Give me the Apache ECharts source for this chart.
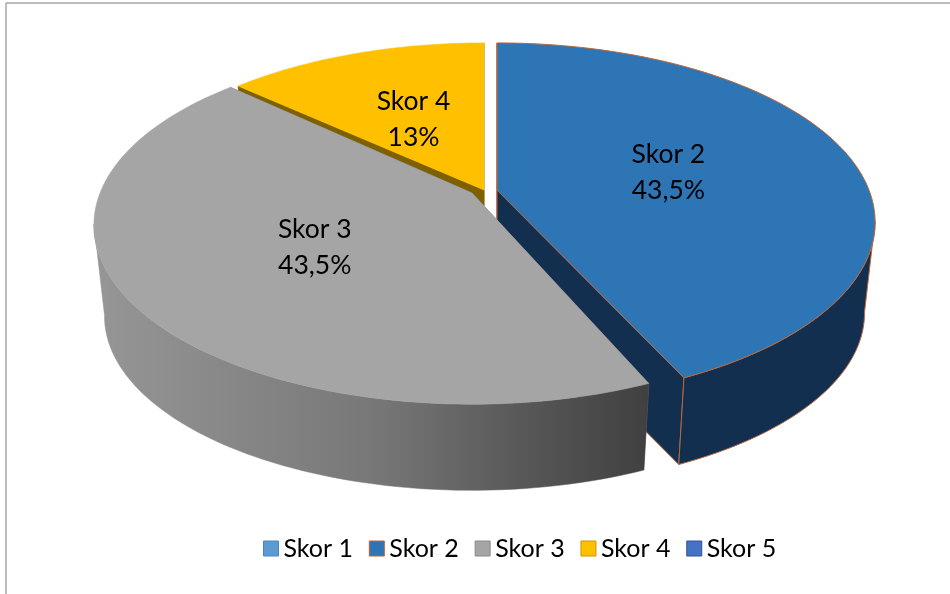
<!DOCTYPE html>
<html>
<head>
<meta charset="utf-8">
<style>html,body{margin:0;padding:0;background:#fff}#chart{width:950px;height:594px}</style>
<script src="https://cdn.jsdelivr.net/npm/echarts@6/dist/echarts.min.js"></script>
</head>
<body>
<div id="chart"></div>
<script>
const categories = ['Skor 1', 'Skor 2', 'Skor 3', 'Skor 4', 'Skor 5'];
const values = [0, 43.5, 43.5, 13, 0];

const topColors = ['#5b9bd5', '#2e75b6', '#a5a5a5', '#ffc000', '#4472c4'];
const sideColors = ['#2e4d6b', '#132f4f', '#7a7a7a', '#7f6000', '#223962'];
const legendBorders = ['#4a86bd', '#c0622c', '#8a8a8a', '#c99700', '#2f5597'];
const edgeColors = [null, '#b8683a', null, null, null];
// Exploded apex of each slice, label nudges and view-angle corrections (layout only)
const apexX = [490, 497, 472, 484, 490];
const apexY = [190, 190, 193, 190, 190];
const labelDx = [0, 0, 9, -7, 0];
const labelDy = [0, 0, 0, -4, 0];
const startNudge = [0, 0, 0, -1, 0];
const endNudge = [0, -1.5, 0, 0, 0];

const radiusX = 372, radiusY = 173.4, persp = 0.179, bottomScale = 0.972, bottomDrop = 92;
const frontFrom = 100, frontTo = 260;
const total = values.reduce((a, b) => a + b, 0);

function pt(i, deg, bottom) {
  const t = deg * Math.PI / 180, u = Math.sin(t), v = Math.cos(t), d = 1 + persp * v;
  const s = bottom ? bottomScale : 1;
  return [apexX[i] + s * radiusX * u / d,
          apexY[i] + (bottom ? bottomDrop : 0) - s * radiusY * v / d];
}
function arc(i, a0, a1, bottom) {
  const n = Math.max(2, Math.ceil(Math.abs(a1 - a0) / 1.5)), out = [];
  for (let k = 0; k <= n; k++) out.push(pt(i, a0 + (a1 - a0) * k / n, bottom));
  return out;
}
function fmt(v) { return String(v).replace('.', ',') + '%'; }

function renderSlice(idx) {
  return function (params, api) {
    const val = api.value(0);
    if (!val) return null;
    const base = values.slice(0, idx).reduce((a, b) => a + b, 0) / total * 360;
    const a0 = base + startNudge[idx];
    const a1 = base + val / total * 360 + endNudge[idx];
    const top = topColors[idx], side = sideColors[idx];
    const stroke = edgeColors[idx];
    const st = (fill) => ({ fill, stroke: stroke || fill, lineWidth: stroke ? 1 : 0.5 });
    const apexT = [apexX[idx], apexY[idx]], apexB = [apexX[idx], apexY[idx] + bottomDrop];
    const wallFill = idx === 2 ? {
      type: 'linear', x: 0, y: 0, x2: 1, y2: 0,
      colorStops: [
        { offset: 0, color: '#969696' },
        { offset: 0.5, color: '#787878' },
        { offset: 0.8, color: '#555555' },
        { offset: 1, color: '#404040' }
      ]
    } : side;
    const children = [];
    [a0, a1].forEach(a => {
      children.push({ type: 'polygon', shape: { points: [apexT, pt(idx, a, false), pt(idx, a, true), apexB] }, style: st(side) });
    });
    const lo = Math.max(a0, frontFrom), hi = Math.min(a1, frontTo);
    if (lo < hi) {
      const wall = arc(idx, lo, hi, false).concat(arc(idx, lo, hi, true).reverse());
      children.push({ type: 'polygon', shape: { points: wall }, style: st(wallFill) });
    }
    children.push({ type: 'polygon', shape: { points: [apexT].concat(arc(idx, a0, a1, false)) }, style: st(top) });
    const mid = pt(idx, (a0 + a1) / 2, false);
    children.push({
      type: 'text', z2: 10,
      style: {
        text: categories[idx] + '\n' + fmt(val),
        x: apexX[idx] + (mid[0] - apexX[idx]) * 0.49 + labelDx[idx],
        y: apexY[idx] + (mid[1] - apexY[idx]) * 0.49 + labelDy[idx],
        font: '26.5px Lato', lineHeight: 36, fill: '#000',
        align: 'center', verticalAlign: 'middle'
      }
    });
    return { type: 'group', children };
  };
}

// Paint back to front: yellow, blue, grey
const paintOrder = [0, 4, 3, 1, 2];
const option = {
  animation: false,
  backgroundColor: '#fff',
  legend: {
    left: 263, top: 536, padding: 0, itemWidth: 15, itemHeight: 15, itemGap: 15.8,
    textStyle: { fontFamily: 'Lato', fontSize: 25, color: '#000' },
    data: categories.map((name, i) => ({
      name, icon: 'rect',
      itemStyle: { color: topColors[i], borderColor: legendBorders[i], borderWidth: 1 }
    })),
    selectedMode: false
  },
  graphic: [
    { type: 'line', silent: true, shape: { x1: 6, y1: 3, x2: 950, y2: 3 }, style: { stroke: '#a6a6a6', lineWidth: 1.5 } },
    { type: 'line', silent: true, shape: { x1: 6, y1: 3, x2: 6, y2: 594 }, style: { stroke: '#a6a6a6', lineWidth: 1.5 } }
  ],
  series: paintOrder.map((i, order) => ({
    type: 'custom', name: categories[i], coordinateSystem: 'none', silent: true, z: 2 + order,
    itemStyle: { color: topColors[i] },
    data: [[values[i]]],
    renderItem: renderSlice(i)
  }))
};
const chart = echarts.init(document.getElementById('chart'), null, { renderer: 'canvas' });
chart.setOption(option);
</script>
</body>
</html>
